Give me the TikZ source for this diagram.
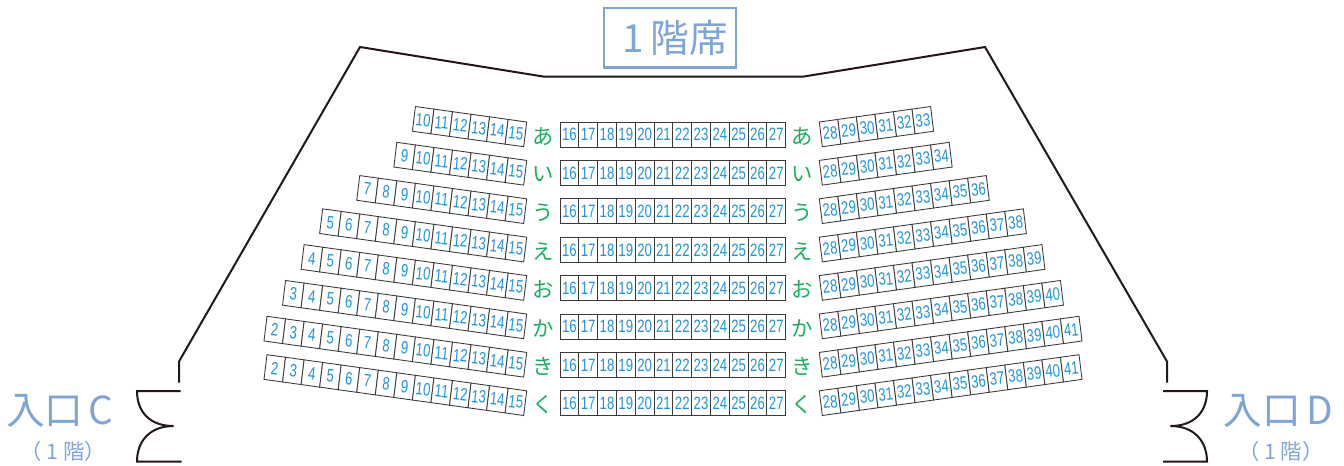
\documentclass[tikz,border=0pt]{standalone}
\usepackage{fontspec}
\setmainfont{Liberation Sans}
\newfontfamily\seatfont[FakeStretch=0.74]{Liberation Sans}
\newfontfamily\jpfont{Noto Sans CJK JP}
\definecolor{wall}{HTML}{231815}
\definecolor{seatline}{HTML}{3A3A3A}
\definecolor{seatnum}{HTML}{1F96D8}
\definecolor{rowgreen}{HTML}{1BAE5E}
\definecolor{labelblue}{HTML}{7FA5D8}
\tikzset{
  wallline/.style={draw=wall,line width=1.5pt,line join=miter},
  seatbox/.style={draw=seatline,line width=0.65pt,fill=white},
  seatlabel/.style={text=seatnum,inner sep=0pt,font=\seatfont\fontsize{13.4}{13.4}\selectfont},
  rowlabel/.style={text=rowgreen,inner sep=0pt,font=\jpfont\fontsize{16}{16}\selectfont},
  biglabel/.style={text=labelblue,inner sep=0pt,font=\jpfont\fontsize{29}{29}\selectfont},
  smalllabel/.style={text=labelblue,inner sep=0pt,font=\jpfont\fontsize{16}{16}\selectfont},
}
\begin{document}
\begin{tikzpicture}[x=0.75pt,y=-0.75pt]
\useasboundingbox (0,0) rectangle (1344,465);
% hall outline
\coordinate (w1) at (179,382.5);
\coordinate (w2) at (179,361.5);
\coordinate (w3) at (360,47);
\coordinate (w4) at (543,76.5);
\coordinate (w5) at (804,76.5);
\coordinate (w6) at (985,47);
\coordinate (w7) at (1167,361.5);
\coordinate (w8) at (1167,382.5);
\draw[wallline] (w1)--(w2)--(w3)--(w4)--(w5)--(w6)--(w7)--(w8);
% doors
\draw[wallline] (180.5,391)--(137,391) .. controls (137,412) and (150,426) .. (173.5,426)
  .. controls (150,426) and (137,441) .. (137,461.7)--(181.7,461.7);
\draw[wallline] (1163,391)--(1207,391) .. controls (1207,412) and (1194,426) .. (1170.5,426)
  .. controls (1194,426) and (1207,441) .. (1207,461.7)--(1163,461.7);
% rows
\foreach \r/\lf/\rl/\kana in {0/10/33/あ,1/9/34/い,2/7/36/う,3/5/38/え,4/4/39/お,5/3/40/か,6/2/41/き,7/2/41/く}{
  \pgfmathsetmacro{\ytop}{122+38.4*\r}
  % left block
  \foreach \n in {\lf,...,15}{
    \pgfmathsetmacro{\xa}{526.7-18.55*(15-\n)}
    \pgfmathsetmacro{\ya}{\ytop-2.58*(15-\n)}
    \draw[seatbox] (\xa,\ya) -- ++(-18.55,-2.58) -- ++(-3,24.7) -- ++(18.55,2.58) -- cycle;
    \node[seatlabel,rotate=-6] at (\xa-10.8,\ya+11.1) {\n};
  }
  % centre block
  \foreach \n in {16,...,27}{
    \pgfmathsetmacro{\xa}{560+18.81*(\n-16)}
    \draw[seatbox] (\xa,\ytop) rectangle ++(18.81,25);
    \node[seatlabel] at (\xa+9.4,\ytop+12.7) {\n};
  }
  % right block
  \foreach \n in {28,...,\rl}{
    \pgfmathsetmacro{\xa}{819.3+18.55*(\n-28)}
    \pgfmathsetmacro{\ya}{\ytop-2.58*(\n-28)}
    \draw[seatbox] (\xa,\ya) -- ++(18.55,-2.58) -- ++(3,24.7) -- ++(-18.55,2.58) -- cycle;
    \node[seatlabel,rotate=6] at (\xa+10.8,\ya+11.1) {\n};
  }
  % row names
  \node[rowlabel] (kl\r) at (543.5,\ytop+14.2) {\kana};
  \node[rowlabel] (kr\r) at (802.3,\ytop+14.2) {\kana};
}
% titles
\node[draw=labelblue,line width=1.9pt,minimum width=99pt,minimum height=44.5pt,inner sep=0pt] (title) at (670,37.8) {};
\node[biglabel] (titletext) at (675,38) {1\hspace{5pt}階席};
\node[biglabel,anchor=center] (entc) at (60,411) {入口\hspace{4pt}C};
\node[smalllabel] (entcs) at (63.5,451) {（\hspace{3.5pt}1\hspace{3.5pt}階）};
\node[biglabel,anchor=center] (entd) at (1278,411) {入口\hspace{4pt}D};
\node[smalllabel] (entds) at (1281,451) {（\hspace{3.5pt}1\hspace{3.5pt}階）};
\end{tikzpicture}
\end{document}
